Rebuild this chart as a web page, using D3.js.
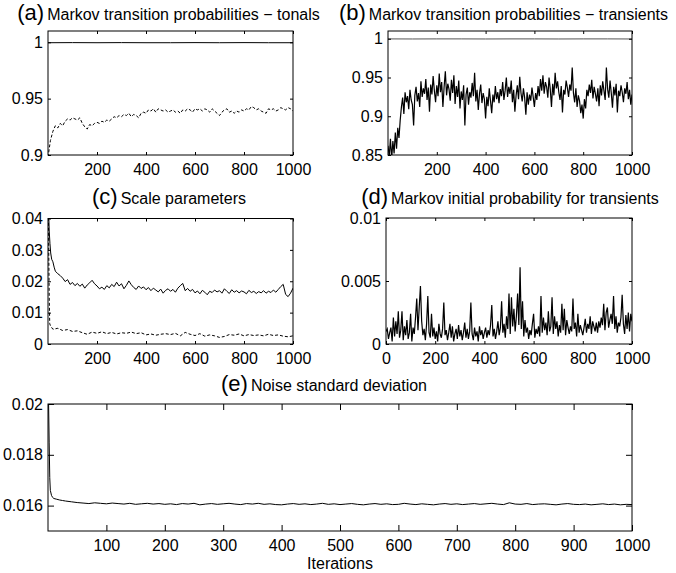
<!DOCTYPE html>
<html>
<head>
<meta charset="utf-8">
<script src="https://cdn.jsdelivr.net/npm/d3@7"></script>
<style>
  body { margin: 0; background: #fff; }
  svg { display: block; }
</style>
</head>
<body>
<svg id="chart" width="676" height="573"></svg>
<script>
// ---------- data ----------

// (a) Markov transition probabilities - tonals
const iterA = d3.range(0, 1001, 10);
const tonalStay = [0.9996, 0.9997, 0.9996, 0.9997, 0.9996, 0.9996, 0.9997, 0.9996, 0.9997, 0.9996, 0.9996];
const iterStay = d3.range(0, 1001, 100);
const tonalTrans = [
  0.898, 0.913, 0.921, 0.926, 0.924, 0.928, 0.926, 0.930, 0.932, 0.931,
  0.933, 0.932, 0.931, 0.933, 0.928, 0.925, 0.923, 0.927, 0.926, 0.928,
  0.929, 0.928, 0.930, 0.929, 0.931, 0.930, 0.932, 0.934, 0.933, 0.935,
  0.934, 0.936, 0.935, 0.937, 0.934, 0.936, 0.935, 0.933, 0.937, 0.938,
  0.937, 0.940, 0.939, 0.941, 0.938, 0.941, 0.940, 0.939, 0.940, 0.938,
  0.939, 0.940, 0.938, 0.939, 0.937, 0.940, 0.939, 0.941, 0.940, 0.938,
  0.941, 0.940, 0.941, 0.939, 0.941, 0.940, 0.938, 0.941, 0.939, 0.937,
  0.935, 0.938, 0.940, 0.941, 0.938, 0.939, 0.937, 0.939, 0.938, 0.940,
  0.939, 0.941, 0.940, 0.943, 0.942, 0.940, 0.941, 0.939, 0.938, 0.937,
  0.941, 0.940, 0.941, 0.939, 0.940, 0.942, 0.941, 0.940, 0.942, 0.941,
  0.939
];

// (b) Markov transition probabilities - transients
const iterB = d3.range(0, 1001, 5);
const transStay = [0.9998, 0.9997, 0.9998, 0.9998, 0.9997, 0.9998, 0.9998, 0.9997, 0.9998, 0.9998, 0.9997];
const transTrans = [
  0.862, 0.848, 0.871, 0.845, 0.868, 0.852, 0.879, 0.858, 0.885, 0.872,
  0.895, 0.912, 0.924, 0.903, 0.931, 0.918, 0.926, 0.909, 0.934, 0.921,
  0.915, 0.888, 0.927, 0.938, 0.919, 0.930, 0.912, 0.945, 0.925, 0.936,
  0.929, 0.948, 0.921, 0.937, 0.906, 0.941, 0.928, 0.952, 0.933, 0.918,
  0.940, 0.926, 0.955, 0.931, 0.944, 0.912, 0.938, 0.958, 0.927, 0.942,
  0.935, 0.920, 0.947, 0.930, 0.953, 0.916, 0.939, 0.925, 0.946, 0.910,
  0.932, 0.921, 0.940, 0.888, 0.928, 0.937, 0.915, 0.931, 0.924, 0.943,
  0.926, 0.956, 0.919, 0.934, 0.908, 0.929, 0.941, 0.917, 0.930, 0.922,
  0.897, 0.925, 0.913, 0.936, 0.920, 0.904, 0.928, 0.918, 0.939, 0.922,
  0.931, 0.917, 0.935, 0.926, 0.944, 0.921, 0.933, 0.950, 0.925, 0.938,
  0.929, 0.946, 0.918, 0.934, 0.906, 0.927, 0.940, 0.922, 0.951, 0.930,
  0.919, 0.936, 0.924, 0.902, 0.931, 0.915, 0.928, 0.920, 0.937, 0.925,
  0.912, 0.930, 0.921, 0.939, 0.926, 0.948, 0.933, 0.953, 0.929, 0.944,
  0.938, 0.924, 0.950, 0.935, 0.912, 0.942, 0.927, 0.956, 0.936, 0.945,
  0.931, 0.921, 0.939, 0.905, 0.934, 0.928, 0.946, 0.937, 0.925, 0.941,
  0.933, 0.963, 0.930, 0.918, 0.936, 0.912, 0.927, 0.920, 0.904, 0.915,
  0.897, 0.922, 0.910, 0.934, 0.926, 0.941, 0.930, 0.947, 0.923, 0.938,
  0.929, 0.919, 0.936, 0.913, 0.940, 0.927, 0.945, 0.933, 0.921, 0.963,
  0.935, 0.924, 0.946, 0.930, 0.911, 0.938, 0.927, 0.942, 0.905, 0.933,
  0.926, 0.940, 0.931, 0.918, 0.936, 0.929, 0.944, 0.922, 0.934, 0.915,
  0.928
];

// (c) Scale parameters
const iterC1 = [1, 3, 5, 8, 11, 15, 20, 25, 30, 40].concat(d3.range(50, 1001, 10));
const scaleTonal = [
  0.046, 0.041, 0.036, 0.032, 0.029, 0.027, 0.0262, 0.0245, 0.0232, 0.0224,
  0.0218, 0.0210, 0.0199, 0.0205, 0.0190, 0.0196, 0.0186, 0.0193, 0.0184, 0.0191,
  0.0178, 0.0188, 0.0195, 0.0203, 0.0192, 0.0185, 0.0176, 0.0181, 0.0174, 0.0186,
  0.0179, 0.0190, 0.0183, 0.0197, 0.0185, 0.0192, 0.0176, 0.0187, 0.0201, 0.0189,
  0.0180, 0.0174, 0.0185, 0.0177, 0.0182, 0.0173, 0.0180, 0.0170, 0.0178, 0.0172,
  0.0166, 0.0175, 0.0162, 0.0171, 0.0176, 0.0168, 0.0174, 0.0165, 0.0178, 0.0186,
  0.0193, 0.0170, 0.0177, 0.0168, 0.0174, 0.0163, 0.0169, 0.0160, 0.0171, 0.0165,
  0.0157, 0.0168, 0.0164, 0.0172, 0.0166, 0.0170, 0.0162, 0.0176, 0.0168, 0.0161,
  0.0173, 0.0165, 0.0170, 0.0163, 0.0169, 0.0166, 0.0160, 0.0171, 0.0164, 0.0168,
  0.0161, 0.0167, 0.0163, 0.0170, 0.0162, 0.0168, 0.0164, 0.0172, 0.0165, 0.0174,
  0.0183, 0.0190, 0.0158, 0.0151, 0.0162, 0.0178
];
const iterC2 = [1, 3, 5, 7, 10].concat(d3.range(20, 1001, 20));
const scaleTrans = [
  0.045, 0.030, 0.015, 0.0065, 0.0058,
  0.0047, 0.0050, 0.0043, 0.0046, 0.0040, 0.0042, 0.0036, 0.0031, 0.0038, 0.0034,
  0.0039, 0.0033, 0.0037, 0.0032, 0.0036, 0.0034, 0.0038, 0.0033, 0.0036, 0.0029,
  0.0032, 0.0028, 0.0031, 0.0033, 0.0030, 0.0034, 0.0026, 0.0037, 0.0031, 0.0027,
  0.0033, 0.0025, 0.0029, 0.0026, 0.0021, 0.0024, 0.0030, 0.0028, 0.0032, 0.0026,
  0.0030, 0.0027, 0.0029, 0.0026, 0.0031, 0.0027, 0.0029, 0.0025, 0.0023, 0.0026
];

// (d) Markov initial probability for transients
const iterD = d3.range(0, 1001, 5);
const initTrans = [
  0.0010, 0.0012, 0.0004, 0.0009, 0.0013, 0.0002, 0.0021, 0.0006, 0.0018, 0.0008,
  0.0026, 0.0005, 0.0011, 0.0026, 0.0003, 0.0014, 0.0007, 0.0019, 0.0004, 0.0009,
  0.0024, 0.0002, 0.0013, 0.0008, 0.0021, 0.0036, 0.0011, 0.0029, 0.0046, 0.0018,
  0.0007, 0.0012, 0.0003, 0.0016, 0.0038, 0.0009, 0.0005, 0.0024, 0.0006, 0.0013,
  0.0004, 0.0010, 0.0002, 0.0016, 0.0008, 0.0005, 0.0012, 0.0033, 0.0007, 0.0011,
  0.0003, 0.0009, 0.0016, 0.0005, 0.0014, 0.0002, 0.0008, 0.0012, 0.0004, 0.0015,
  0.0006, 0.0011, 0.0003, 0.0009, 0.0017, 0.0005, 0.0012, 0.0004, 0.0010, 0.0033,
  0.0008, 0.0003, 0.0013, 0.0006, 0.0010, 0.0002, 0.0014, 0.0007, 0.0011, 0.0004,
  0.0009, 0.0013, 0.0005, 0.0011, 0.0007, 0.0015, 0.0031, 0.0006, 0.0012, 0.0004,
  0.0010, 0.0018, 0.0007, 0.0013, 0.0034, 0.0009, 0.0016, 0.0005, 0.0022, 0.0012,
  0.0040, 0.0008, 0.0037, 0.0014, 0.0028, 0.0010, 0.0022, 0.0040, 0.0015, 0.0061,
  0.0012, 0.0034, 0.0006, 0.0019, 0.0009, 0.0013, 0.0004, 0.0011, 0.0007, 0.0016,
  0.0024, 0.0005, 0.0012, 0.0008, 0.0014, 0.0006, 0.0038, 0.0009, 0.0021, 0.0011,
  0.0017, 0.0007, 0.0026, 0.0010, 0.0014, 0.0037, 0.0008, 0.0022, 0.0012, 0.0018,
  0.0006, 0.0015, 0.0009, 0.0032, 0.0011, 0.0028, 0.0007, 0.0019, 0.0013, 0.0008,
  0.0014, 0.0010, 0.0036, 0.0012, 0.0017, 0.0006, 0.0024, 0.0009, 0.0015, 0.0011,
  0.0007, 0.0013, 0.0020, 0.0009, 0.0016, 0.0012, 0.0022, 0.0008, 0.0018, 0.0014,
  0.0010, 0.0017, 0.0009, 0.0018, 0.0013, 0.0021, 0.0015, 0.0032, 0.0011, 0.0025,
  0.0029, 0.0013, 0.0019, 0.0024, 0.0016, 0.0038, 0.0012, 0.0022, 0.0009, 0.0017,
  0.0014, 0.0021, 0.0039, 0.0016, 0.0008, 0.0023, 0.0012, 0.0025, 0.0010, 0.0024,
  0.0018
];

// (e) Noise standard deviation
const iterE = [1, 2, 3, 4, 6, 8, 10, 15, 20, 25, 30, 40].concat(d3.range(50, 1001, 10));
const noiseStd = [
  0.0200, 0.0185, 0.0171, 0.0166, 0.01640, 0.01632, 0.01628, 0.01625, 0.01622, 0.01620, 0.01618, 0.01615,
  0.01612, 0.01610, 0.01608, 0.01611, 0.01609, 0.01607, 0.01610, 0.01608, 0.01606, 0.01609,
  0.01605, 0.01607, 0.01609, 0.01606, 0.01608, 0.01605, 0.01607, 0.01604, 0.01608, 0.01606,
  0.01609, 0.01603, 0.01606, 0.01608, 0.01605, 0.01607, 0.01609, 0.01606, 0.01604, 0.01608,
  0.01606, 0.01609, 0.01605, 0.01607, 0.01604, 0.01603, 0.01606, 0.01608, 0.01605, 0.01607,
  0.01604, 0.01606, 0.01609, 0.01605, 0.01607, 0.01604, 0.01606, 0.01608, 0.01605, 0.01603,
  0.01606, 0.01608, 0.01605, 0.01607, 0.01604, 0.01605, 0.01609, 0.01606, 0.01604, 0.01607,
  0.01605, 0.01603, 0.01606, 0.01608, 0.01605, 0.01607, 0.01604, 0.01606, 0.01608, 0.01605,
  0.01607, 0.01609, 0.01606, 0.01604, 0.01611, 0.01606, 0.01605, 0.01608, 0.01604, 0.01606,
  0.01607, 0.01605, 0.01603, 0.01606, 0.01608, 0.01605, 0.01604, 0.01606, 0.01603, 0.01605,
  0.01607, 0.01604, 0.01606, 0.01603, 0.01605, 0.01604
];

// tick values
const xTicks200 = [200, 400, 600, 800, 1000];
const xTicksD = [0, 200, 400, 600, 800, 1000];
const xTicks100 = [100, 200, 300, 400, 500, 600, 700, 800, 900, 1000];
const yTicksA = [0.9, 0.95, 1];
const yTicksB = [0.85, 0.9, 0.95, 1];
const yTicksC = [0, 0.01, 0.02, 0.03, 0.04];
const yTicksD = [0, 0.005, 0.01];
const yTicksE = [0.016, 0.018, 0.02];

// ---------- drawing ----------
const FONT = '"Liberation Sans", Arial, Helvetica, sans-serif';
const svg = d3.select('#chart');

function drawPanel(p) {
  const x = d3.scaleLinear().domain([0, 1000]).range([p.left, p.right]);
  const y = d3.scaleLinear().domain(p.yDomain).range([p.bottom, p.top]);
  const tick = p.tickLen;

  const clipId = 'clip-' + p.id;
  svg.append('clipPath').attr('id', clipId)
    .append('rect')
    .attr('x', p.left).attr('y', p.top)
    .attr('width', p.right - p.left).attr('height', p.bottom - p.top);

  const g = svg.append('g');

  // series lines
  p.series.forEach(s => {
    const pts = s.iter.map((it, i) => [it, s.values[i]]);
    g.append('path')
      .datum(pts)
      .attr('clip-path', `url(#${clipId})`)
      .attr('fill', 'none')
      .attr('stroke', s.color || '#000')
      .attr('stroke-width', s.width || 1)
      .attr('stroke-dasharray', s.dash || null)
      .attr('d', d3.line().x(d => x(d[0])).y(d => y(d[1])));
  });

  // axes, matlab style inward ticks on all four sides
  const styleAxis = sel => {
    sel.attr('font-size', 16).attr('font-family', FONT).attr('color', '#000');
    sel.select('.domain').remove();
  };

  g.append('g')
    .attr('transform', `translate(0,${p.bottom})`)
    .call(d3.axisBottom(x).tickValues(p.xTicks).tickSize(-tick).tickPadding(8.5).tickFormat(d => String(d)))
    .call(styleAxis);
  g.append('g')
    .attr('transform', `translate(0,${p.top})`)
    .call(d3.axisTop(x).tickValues(p.xTicks).tickSize(-tick).tickFormat(''))
    .call(styleAxis);
  g.append('g')
    .attr('transform', `translate(${p.left},0)`)
    .call(d3.axisLeft(y).tickValues(p.yTicks).tickSize(-tick).tickPadding(5).tickFormat(d => String(d)))
    .call(styleAxis);
  g.append('g')
    .attr('transform', `translate(${p.right},0)`)
    .call(d3.axisRight(y).tickValues(p.yTicks).tickSize(-tick).tickFormat(''))
    .call(styleAxis);

  // box
  g.append('rect')
    .attr('x', p.left).attr('y', p.top)
    .attr('width', p.right - p.left).attr('height', p.bottom - p.top)
    .attr('fill', 'none').attr('stroke', '#000').attr('stroke-width', 1);

  // title: "(a)" bigger than the rest
  const t = svg.append('text')
    .attr('x', p.titleX)
    .attr('y', p.titleY)
    .attr('text-anchor', 'middle')
    .attr('font-family', FONT)
    .attr('fill', '#000');
  t.append('tspan').attr('font-size', 22).text(p.label);
  t.append('tspan').attr('font-size', 16).attr('dx', 3).text(p.title);

  if (p.xLabel) {
    svg.append('text')
      .attr('x', (p.left + p.right) / 2)
      .attr('y', p.xLabelY)
      .attr('text-anchor', 'middle')
      .attr('font-family', FONT)
      .attr('font-size', 16)
      .text(p.xLabel);
  }
}

drawPanel({
  id: 'a', left: 48, right: 293, top: 31, bottom: 155, tickLen: 3,
  yDomain: [0.9, 1.01], xTicks: xTicks200, yTicks: yTicksA,
  label: '(a)', title: 'Markov transition probabilities \u2212 tonals', titleX: 168.5, titleY: 20,
  series: [
    { iter: iterStay, values: tonalStay },
    { iter: iterA, values: tonalTrans, dash: '3,2' }
  ]
});

drawPanel({
  id: 'b', left: 388, right: 632, top: 31, bottom: 155, tickLen: 3,
  yDomain: [0.85, 1.01], xTicks: xTicks200, yTicks: yTicksB,
  label: '(b)', title: 'Markov transition probabilities \u2212 transients', titleX: 503.5, titleY: 20,
  series: [
    { iter: iterStay, values: transStay, color: '#555' },
    { iter: iterB, values: transTrans, width: 1.2 }
  ]
});

drawPanel({
  id: 'c', left: 48, right: 293, top: 218.5, bottom: 344, tickLen: 3,
  yDomain: [0, 0.04], xTicks: xTicks200, yTicks: yTicksC,
  label: '(c)', title: 'Scale parameters', titleX: 169, titleY: 204,
  series: [
    { iter: iterC1, values: scaleTonal },
    { iter: iterC2, values: scaleTrans, dash: '3,2' }
  ]
});

drawPanel({
  id: 'd', left: 386, right: 632, top: 218, bottom: 344, tickLen: 3,
  yDomain: [0, 0.01], xTicks: xTicksD, yTicks: yTicksD,
  label: '(d)', title: 'Markov initial probability for transients', titleX: 510, titleY: 204,
  series: [
    { iter: iterD, values: initTrans, width: 1.2 }
  ]
});

drawPanel({
  id: 'e', left: 48, right: 632, top: 404, bottom: 531, tickLen: 6,
  yDomain: [0.015, 0.02], xTicks: xTicks100, yTicks: yTicksE,
  label: '(e)', title: 'Noise standard deviation', titleX: 324, titleY: 391,
  xLabel: 'Iterations', xLabelY: 569,
  series: [
    { iter: iterE, values: noiseStd }
  ]
});
</script>
</body>
</html>
